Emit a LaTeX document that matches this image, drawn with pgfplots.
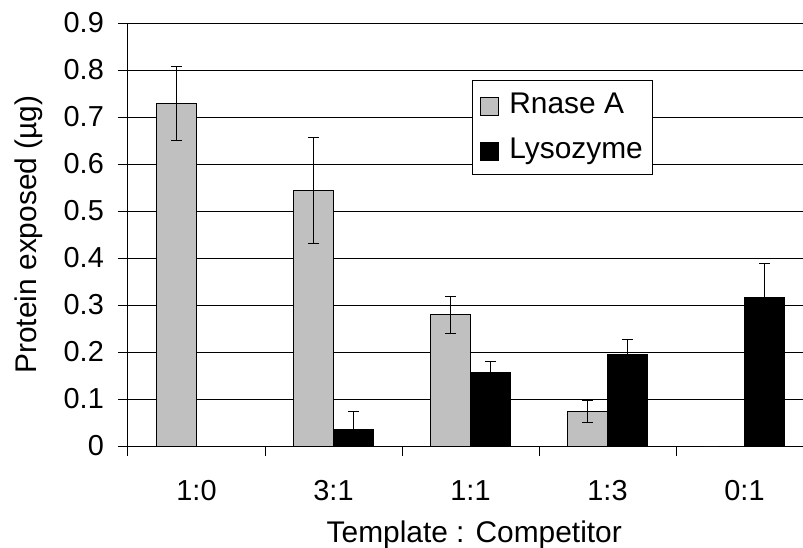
\documentclass[border=0pt]{standalone}
\usepackage{fontspec}
\setmainfont{Liberation Sans}
\usepackage{pgfplots}
\pgfplotsset{compat=1.18}
\definecolor{barg}{RGB}{192,192,192}
\begin{document}
\fontsize{30}{36}\selectfont
\begin{tikzpicture}
\begin{axis}[
  at={(0,0)}, anchor=south west,
  scale only axis, width=675bp, height=423bp,
  xmin=-0.5, xmax=4.427, ymin=0, ymax=0.9,
  ybar=0pt, bar width=40bp,
  axis lines*=left,
  axis line style={line width=1bp, black},
  ytick={0,0.1,0.2,0.3,0.4,0.5,0.6,0.7,0.8,0.9},
  /pgf/number format/fixed, /pgf/number format/precision=1,
  /pgf/number format/assume math mode=true,
  ymajorgrids, grid style={black, line width=0.8bp},
  tick align=outside, major tick length=10bp, minor tick length=10bp,
  tick style={line width=1bp, black},
  xtick={0,1,2,3,4}, xticklabels={1:0,3:1,1:1,1:3,0:1},
  minor xtick={-0.5,0.5,1.5,2.5,3.5},
  major x tick style={draw=none},
  tick label style={font=\fontsize{29}{34}\selectfont},
  xticklabel style={anchor=base, yshift=-44bp},
  yticklabel style={xshift=-4bp},
  xlabel={Template : Competitor},
  ylabel={Protein exposed (µg)},
  label style={font=\fontsize{30}{36}\selectfont},
  xlabel style={at={(axis description cs:0.513,-0.227)}, anchor=base},
  ylabel style={at={(axis description cs:-0.111,0.5)}, anchor=south},
  legend style={at={(0.5096,0.865)}, anchor=north west, draw=black, line width=1bp,
    row sep=16bp, inner xsep=8bp, inner ysep=10bp, font=\fontsize{30}{36}\selectfont},
  legend cell align=left,
  legend image code/.code={\draw[#1, draw=black, line width=0.8bp] (0bp,-10bp) rectangle (18bp,8bp); \path (26bp,0bp);},
  error bars/y dir=both, error bars/y explicit,
  error bars/error bar style={line width=1bp, black},
  error bars/error mark options={rotate=90, mark size=5.5bp, line width=1bp, black},
]
\addplot[fill=barg, draw=black, line width=1bp] coordinates {
  (0,0.728) +- (0,0.079)
  (1,0.543) +- (0,0.113)
  (2,0.279) +- (0,0.039)
  (3,0.073) +- (0,0.024)
  (4,0) +- (0,0)
};
\addplot[fill=black, draw=black, line width=1bp] coordinates {
  (0,0) +- (0,0)
  (1,0.036) +- (0,0.037)
  (2,0.156) +- (0,0.023)
  (3,0.194) +- (0,0.033)
  (4,0.317) +- (0,0.072)
};
\legend{Rnase A, Lysozyme}
\end{axis}
\pgfresetboundingbox
\path[use as bounding box] (-128bp,-102bp) rectangle (675bp,446bp);
\end{tikzpicture}
\end{document}
